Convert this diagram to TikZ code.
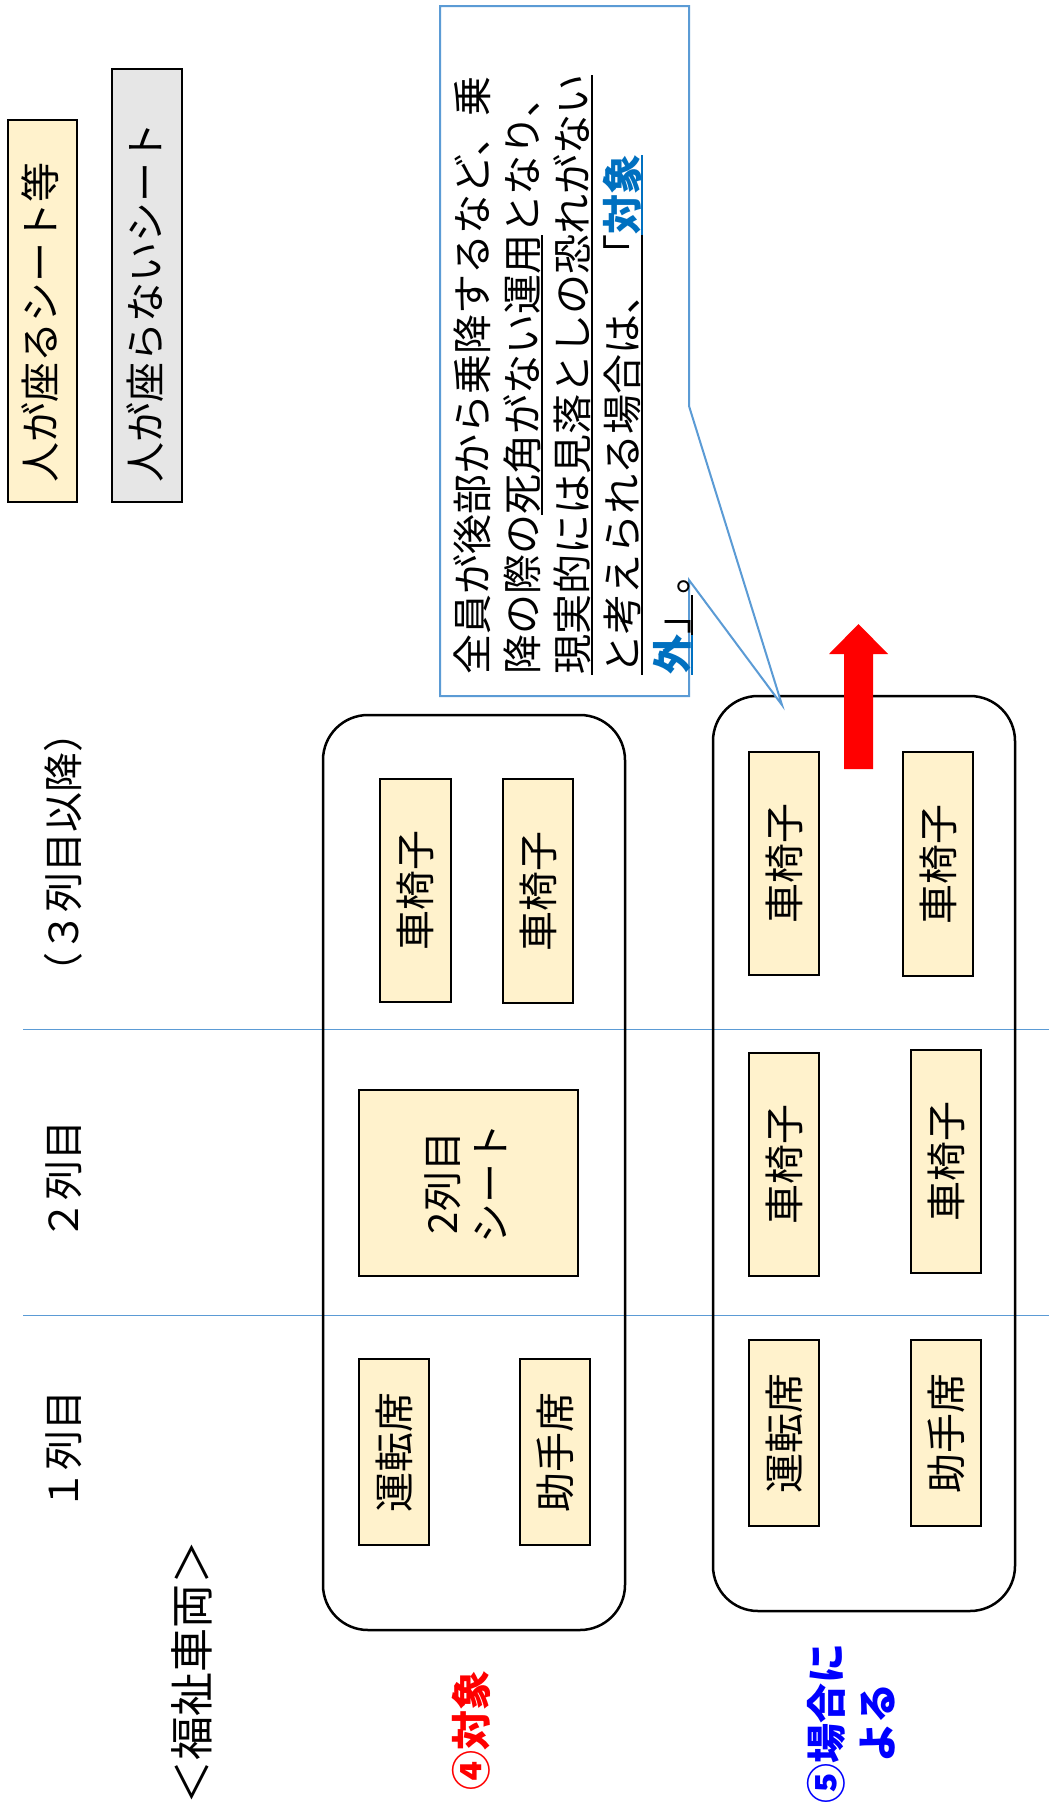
\documentclass[tikz,border=0pt]{standalone}
\usepackage{fontspec}
\setmainfont{Noto Sans CJK JP}
\definecolor{seat}{HTML}{FFF2CC}
\definecolor{legendgray}{HTML}{E6E6E6}
\definecolor{sepblue}{HTML}{5B9BD5}
\definecolor{txtblue}{HTML}{0070C0}
\definecolor{labblue}{HTML}{0000FF}
\definecolor{labred}{HTML}{FF0000}
\newsavebox\ulbox
\newcommand\ulx[1]{\sbox\ulbox{#1}\rlap{\rule[-0.14em]{\wd\ulbox}{0.05em}}\usebox\ulbox}
\newcommand\fsz{\fontsize{40}{50}\selectfont}
\begin{document}
\begin{tikzpicture}[x=1pt,y=-1pt,
  seatbox/.style={draw=black, line width=1.5pt, fill=seat},
  carbox/.style={draw=black, line width=2.5pt, rounded corners=45pt},
  vt/.style={rotate=90, inner sep=0pt, font=\fsz},
  sepline/.style={draw=sepblue, line width=1pt},
]
\useasboundingbox[fill=white] (0,0) rectangle (1049,1820);

% legend
\draw[seatbox] (8,120) rectangle (77,502);
\node[vt, anchor=west] (lg1) at (40,483) {人が座るシート等};
\draw[draw=black, line width=1.5pt, fill=legendgray] (112,69) rectangle (182,502);
\node[vt, anchor=west] (lg2) at (145,483) {人が座らないシート};

% column headers
\node[vt] (h3) at (63,852) {（３列目以降）};
\node[vt] (h2) at (64,1180) {２列目};
\node[vt] (h1) at (64,1450) {１列目};
\node[vt, font=\fontsize{44}{50}\selectfont] (title) at (192,1672) {＜福祉車両＞};

% separators
\draw[sepline] (23,1029) -- (1049,1029);
\draw[sepline] (23,1315) -- (1049,1315);

% car 1
\draw[carbox] (323,715) rectangle (625,1630);
\draw[seatbox] (380,779) rectangle (451,1002);
\node[vt] (a1) at (415.5,890.5) {車椅子};
\draw[seatbox] (503,779) rectangle (573,1003);
\node[vt] (a2) at (538,891) {車椅子};
\draw[seatbox] (359,1090) rectangle (578,1276);
\node[vt, align=center, font=\fontsize{40}{48}\selectfont] (a3) at (466,1183) {2列目\\シート};
\draw[seatbox] (359,1359) rectangle (429,1545);
\node[vt] (a4) at (394,1452) {運転席};
\draw[seatbox] (520,1359) rectangle (590,1545);
\node[vt] (a5) at (555,1452) {助手席};

% car 2
\draw[carbox] (713,696) rectangle (1015,1611);
\draw[seatbox] (749,752) rectangle (819,975);
\node[vt] (b1) at (784,863.5) {車椅子};
\draw[seatbox] (903,752) rectangle (973,976);
\node[vt] (b2) at (938,864) {車椅子};
\draw[seatbox] (749,1053) rectangle (819,1276);
\node[vt] (b3) at (784,1164.5) {車椅子};
\draw[seatbox] (911,1050) rectangle (981,1273);
\node[vt] (b4) at (946,1161.5) {車椅子};
\draw[seatbox] (749,1340) rectangle (819,1526);
\node[vt] (b5) at (784,1433) {運転席};
\draw[seatbox] (911,1340) rectangle (981,1526);
\node[vt] (b6) at (946,1433) {助手席};

% red arrow
\fill[labred] (844,769) -- (844,654) -- (829,654) -- (858.5,624) -- (888,654) -- (873,654) -- (873,769) -- cycle;

% labels
\node[vt, font=\fsz\bfseries, text=labred] (lab4) at (471,1730) {④対象};
\node[vt, font=\fontsize{40}{51}\selectfont\bfseries, text=labblue, align=center] (lab5) at (851,1723) {⑤場合に\\よる};

% callout
\draw[draw=sepblue, line width=2pt, fill=white, line join=miter]
  (440,6) -- (689,6) -- (689,406) -- (782,705) -- (689,580) -- (689,696) -- (440,696) -- cycle;
\node[vt, anchor=base west] (c1) at (487,675) {全員が後部から乗降するなど、乗};
\node[vt, anchor=base west] (c2) at (537,675) {降の際の\ulx{死角がない運用}となり、};
\node[vt, anchor=base west] (c3) at (587,675) {\ulx{現実的には見落としの恐れがない}};
\node[vt, anchor=base west] (c4) at (637,675) {\ulx{と考えられる場合は、「}{\color{txtblue}\bfseries\ulx{対象}}};
\node[vt, anchor=base west] (c5) at (687,675) {{\color{txtblue}\bfseries\ulx{外}}\ulx{」}。};
\end{tikzpicture}
\end{document}
